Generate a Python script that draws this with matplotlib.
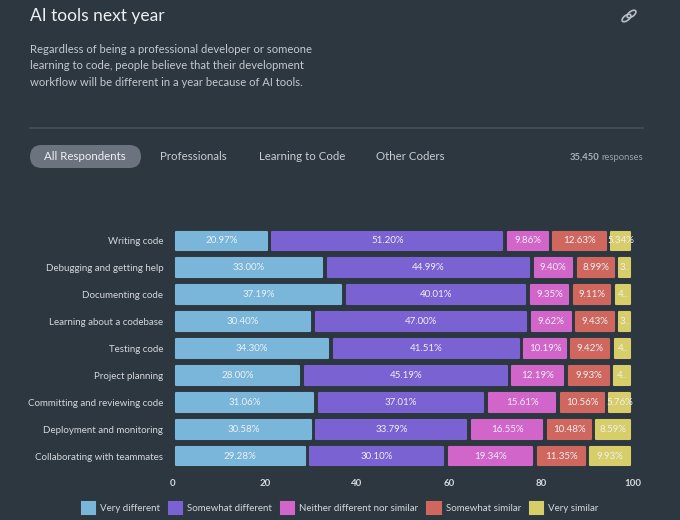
import numpy as np
import matplotlib.pyplot as plt
from matplotlib.patches import FancyBboxPatch, Ellipse

plt.rcParams['font.family'] = ['Lato', 'DejaVu Sans']

categories = ['Writing code', 'Debugging and getting help', 'Documenting code',
              'Learning about a codebase', 'Testing code', 'Project planning',
              'Committing and reviewing code', 'Deployment and monitoring',
              'Collaborating with teammates']
series_names = ['Very different', 'Somewhat different', 'Neither different nor similar',
                'Somewhat similar', 'Very similar']
very_different = [20.97, 33.00, 37.19, 30.40, 34.30, 28.00, 31.06, 30.58, 29.28]
somewhat_different = [51.20, 44.99, 40.01, 47.00, 41.51, 45.19, 37.01, 33.79, 30.10]
neither = [9.86, 9.40, 9.35, 9.62, 10.19, 12.19, 15.61, 16.55, 19.34]
somewhat_similar = [12.63, 8.99, 9.11, 9.43, 9.42, 9.93, 10.56, 10.48, 11.35]
very_similar = [5.34, 3.62, 4.34, 3.55, 4.58, 4.69, 5.76, 8.59, 9.93]
x_ticks = [0, 20, 40, 60, 80, 100]
tabs = ['All Respondents', 'Professionals', 'Learning to Code', 'Other Coders']

colors = ['#79b6da', '#7b62d3', '#d265c9', '#d0675f', '#d7cd69']
bg = '#2c3740'
txt = '#d4d8dc'

fig = plt.figure(figsize=(6.8, 5.2), dpi=100, facecolor=bg)

# header
fig.text(30/680, 1-16/520, 'AI tools next year', color='#eef0f2', fontsize=12.5, va='center')
sub = ('Regardless of being a professional developer or someone\n'
       'learning to code, people believe that their development\n'
       'workflow will be different in a year because of AI tools.')
fig.text(30/680, 1-44/520, sub, color='#c4c9ce', fontsize=8.1, va='top', linespacing=1.6)
fig.add_artist(plt.Line2D([30/680, 643/680], [1-128/520, 1-128/520], color='#46525b', lw=1.2))

# link icon
for dx in (-2.5, 2.5):
    fig.add_artist(Ellipse(((629+dx)/680, 1-(16-dx*0.8)/520), 6/680, 9/520, angle=-40,
                           fill=False, ec='#b8bec4', lw=1.2, transform=fig.transFigure))

# tabs
pill = FancyBboxPatch((30/680, 1-168/520), 111/680, 23/520,
                      boxstyle='round,pad=0,rounding_size=0.017', fc='#6b747e', ec='none',
                      transform=fig.transFigure, mutation_aspect=680/520)
fig.add_artist(pill)
tab_x = [85, 193, 302, 410]
for t, xp in zip(tabs, tab_x):
    fig.text(xp/680, 1-156.5/520, t, color='#eef0f2' if xp == 85 else '#c9ced3',
             fontsize=8.3, ha='center', va='center')
fig.text(643/680, 1-157/520, 'responses', color='#9aa2a9', fontsize=6.8, ha='right', va='center')
fig.text(599/680, 1-157/520, '35,450', color='#aab1b7', fontsize=6.8, ha='right', va='center',
         fontweight='bold')

ax = fig.add_axes([173/680, 0.0971, 460/680, 0.4654])
ax.set_facecolor(bg)
data = np.array([very_different, somewhat_different, neither, somewhat_similar, very_similar])
y = np.arange(len(categories))
left = np.zeros(len(categories))
gap = 1.2
for i, (name, vals) in enumerate(zip(series_names, data)):
    bars = ax.barh(y, vals - gap, left=left + gap / 2, height=0.7, color=colors[i],
                   edgecolor=colors[i], linewidth=1.5, joinstyle='round', label=name)
    for b, v in zip(bars, vals):
        lab = f'{v:.2f}%'
        if v < 4.9:
            lab = lab[0] + '..'
        t = ax.text(b.get_x() + b.get_width() / 2, b.get_y() + b.get_height() / 2, lab,
                    color='#eef0f4', fontsize=7, ha='center', va='center')
        t.set_clip_path(b)
    left += vals

ax.set_xlim(0, 100)
ax.set_ylim(len(categories) - 0.5, -0.5)
ax.set_yticks(y)
ax.set_yticklabels(categories, color=txt, fontsize=7)
ax.set_xticks(x_ticks)
ax.set_xticklabels([str(v) for v in x_ticks], color=txt, fontsize=7, fontweight='bold')
ax.tick_params(length=0, pad=7)
ax.tick_params(axis='y', pad=7)
for s in ax.spines.values():
    s.set_visible(False)

leg = fig.legend(loc='center', bbox_to_anchor=(0.5, 1-508/520), ncol=5, frameon=False,
                 fontsize=7, labelcolor=txt, handlelength=1.4, handleheight=1.4,
                 columnspacing=0.9, handletextpad=0.5)

fig.savefig('out.png', dpi=100, facecolor=bg)
